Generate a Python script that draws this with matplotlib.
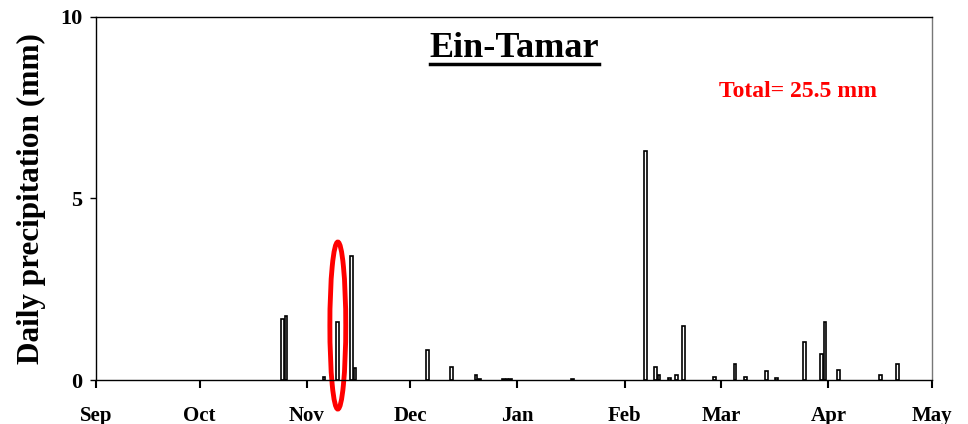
import matplotlib
matplotlib.use("Agg")
import matplotlib.pyplot as plt
import matplotlib.dates as mdates
from matplotlib.patches import Ellipse
import numpy as np

# daily precipitation at Ein-Tamar (mm), season 2010/11
dates = ["2010-10-25", "2010-10-26", "2010-11-06", "2010-11-10", "2010-11-14",
         "2010-11-15", "2010-12-06", "2010-12-13", "2010-12-20", "2010-12-21",
         "2010-12-28", "2010-12-29", "2010-12-30", "2011-01-17", "2011-02-07",
         "2011-02-10", "2011-02-11", "2011-02-14", "2011-02-16", "2011-02-18",
         "2011-02-27", "2011-03-05", "2011-03-08", "2011-03-14", "2011-03-17",
         "2011-03-25", "2011-03-30", "2011-03-31", "2011-04-04", "2011-04-16",
         "2011-04-21"]
precip = [1.68, 1.75, 0.09, 1.60, 3.42,
          0.32, 0.83, 0.35, 0.13, 0.03,
          0.02, 0.02, 0.02, 0.02, 6.32,
          0.35, 0.15, 0.05, 0.14, 1.49,
          0.07, 0.44, 0.09, 0.26, 0.06,
          1.06, 0.72, 1.59, 0.27, 0.14,
          0.43]
station = "Ein-Tamar"
total_label = "Total= 25.5 mm"
season_start = "2010-09-01"
season_end = "2011-05-01"
yticks = [0, 5, 10]

plt.rcParams['font.family'] = ['Liberation Serif', 'DejaVu Serif']
plt.rcParams['font.weight'] = 'bold'

fig = plt.figure(figsize=(9.68, 4.24), dpi=100)
ax = fig.add_axes([96 / 968, 1 - 380 / 424, 836 / 968, 363 / 424])

x = mdates.datestr2num(dates)
ax.bar(x, precip, width=0.8, facecolor='white', edgecolor='black', linewidth=1.2)

ax.set_xlim(mdates.datestr2num(season_start), mdates.datestr2num(season_end))
ax.set_ylim(0, 10)
ax.set_yticks(yticks)
ax.xaxis.set_major_locator(mdates.MonthLocator())
ax.xaxis.set_major_formatter(mdates.DateFormatter('%b'))

ax.tick_params(axis='x', direction='out', length=6, width=1.5, pad=13, labelsize=15)
ax.tick_params(axis='y', direction='out', length=4, width=1, pad=6, labelsize=16)
for lbl in ax.get_xticklabels() + ax.get_yticklabels():
    lbl.set_fontweight('bold')
for sp in ax.spines.values():
    sp.set_linewidth(1.0)
ax.spines['right'].set_color('#777777')

ax.set_ylabel('Daily precipitation (mm)', fontsize=22.5, fontweight='bold', labelpad=10)

ax.text(0.5, 0.913, station, transform=ax.transAxes, ha='center', va='center',
        fontsize=26, fontweight='bold')
# underline of the title
ax.plot([0.4, 0.602], [0.87, 0.87], transform=ax.transAxes, color='black', lw=2.5)
ax.text(0.84, 0.795, total_label, transform=ax.transAxes, ha='center', va='center',
        fontsize=17, fontweight='bold', color='red')

# red ellipse marking the November event
ell = Ellipse((mdates.datestr2num("2010-11-10"), 1.5), width=4.6, height=4.6,
              fill=False, edgecolor='red', linewidth=3.5, clip_on=False)
ax.add_patch(ell)

fig.savefig('out.png', dpi=100)
